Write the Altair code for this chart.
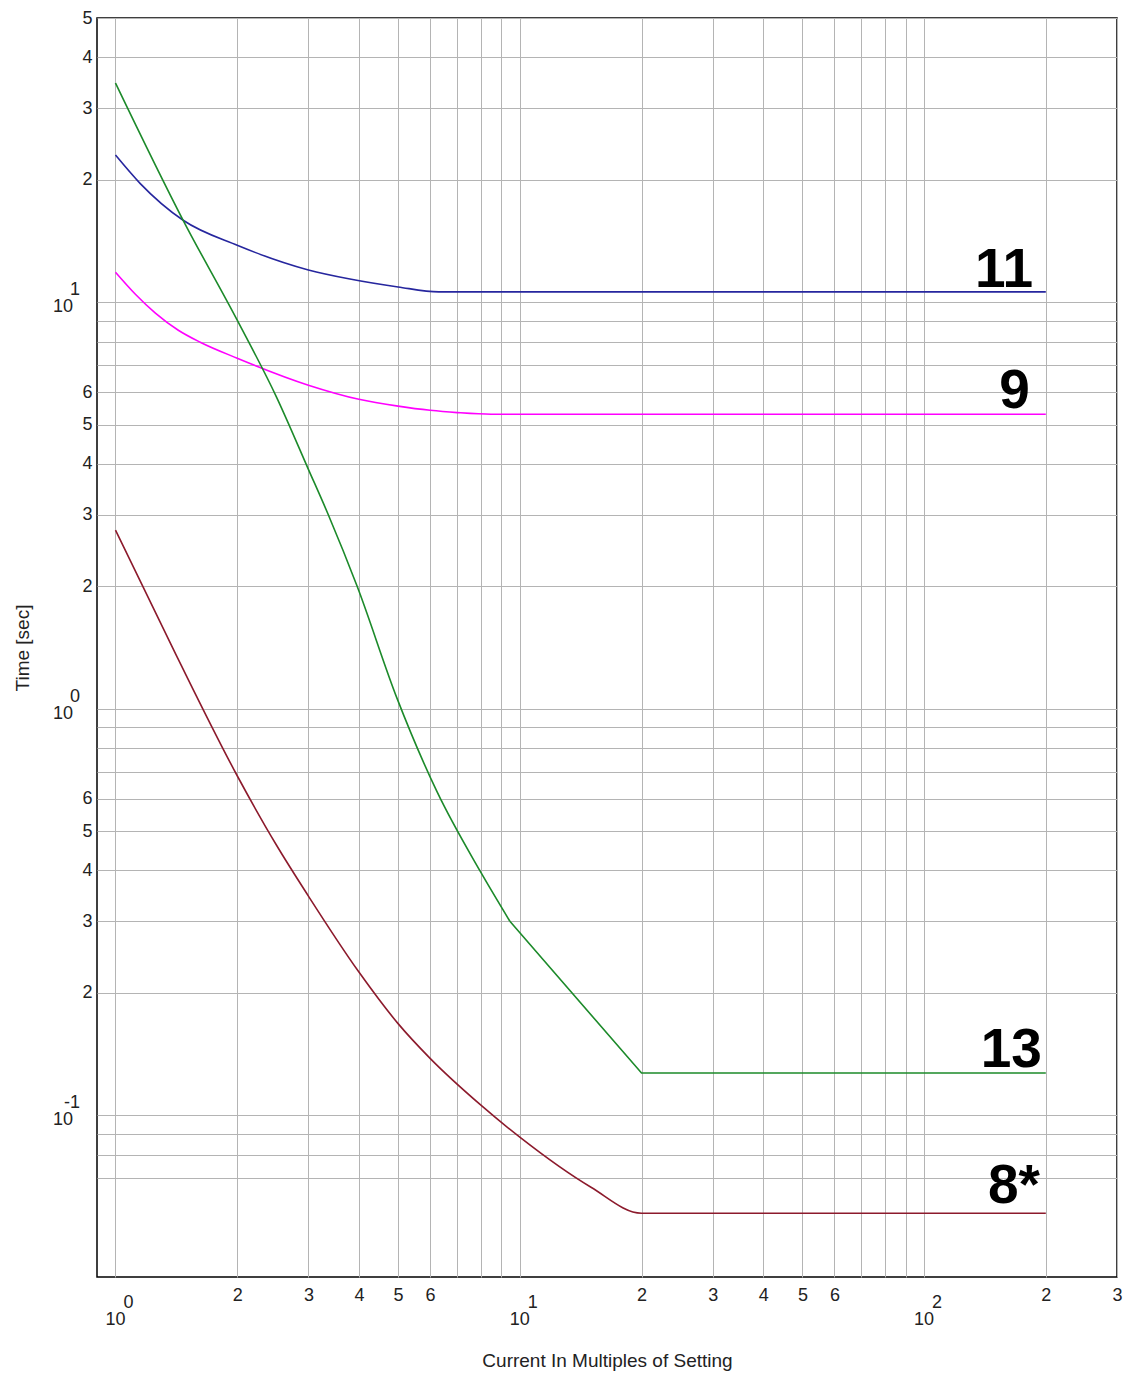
import altair as alt
import pandas as pd

# ---------------- data ----------------
series_names = ["11", "9", "13", "8*"]
series_colors = ["#26269e", "#ff00ff", "#1c8a2a", "#8c1a2c"]

x_11 = [1, 1.15, 1.47, 2, 3, 3.8, 5, 6.3, 200]
t_11 = [23.0, 19.6, 15.9, 13.8, 12.0, 11.4, 10.9, 10.6, 10.6]

x_9 = [1, 1.12, 1.255, 1.43, 1.62, 2, 3, 4, 5, 6, 7, 8.5, 200]
t_9 = [11.85, 10.46, 9.4, 8.53, 7.97, 7.28, 6.25, 5.77, 5.55, 5.42, 5.35, 5.30, 5.30]

x_13 = [1, 1.47, 2, 2.5, 3, 3.36, 3.96, 4.97, 6.24, 7.96, 9.45, 20, 200]
t_13 = [34.6, 15.9, 9.03, 5.85, 3.88, 3.0, 2.0, 1.06, 0.625, 0.4, 0.3, 0.127, 0.127]
knee_13 = 9.45  # curve part up to here, straight segments after

x_8 = [1, 1.41, 2, 2.5, 3, 4, 5, 6, 8, 10, 15, 20, 200]
t_8 = [2.75, 1.36, 0.684, 0.462, 0.346, 0.225, 0.168, 0.138, 0.106, 0.0883, 0.0665, 0.0574, 0.0574]

label_names = ["11", "9", "13", "8*"]
label_x = [186, 182.7, 195.6, 193.4]
label_t = [10.89, 5.485, 0.1313, 0.0607]

x_grid = [1, 2, 3, 4, 5, 6, 7, 8, 9, 10, 20, 30, 40, 50, 60, 70, 80, 90, 100, 200, 300]
y_grid = [0.07, 0.08, 0.09, 0.1, 0.2, 0.3, 0.4, 0.5, 0.6, 0.7, 0.8, 0.9,
          1, 2, 3, 4, 5, 6, 7, 8, 9, 10, 20, 30, 40, 50]

x_decades = [1, 10, 100]
x_exponents = ["0", "1", "2"]
y_decades = [0.1, 1, 10]
y_exponents = ["-1", "0", "1"]

x_domain = [0.9, 300]
y_domain = [0.04, 50]

# ---------------- build ----------------
W, H = 1020, 1259
FONT = "Liberation Sans"
TXT = "#222222"
LBL = 18
TTL = 19

rows = []
for name, xs, ts in [("11", x_11, t_11), ("9", x_9, t_9), ("13", x_13, t_13), ("8*", x_8, t_8)]:
    for i, (a, b) in enumerate(zip(xs, ts)):
        rows.append({"series": name, "x": a, "t": b, "order": i})
curves = pd.DataFrame(rows)

xscale = alt.Scale(type="log", domain=x_domain, nice=False)
yscale = alt.Scale(type="log", domain=y_domain, nice=False)
cscale = alt.Scale(domain=series_names, range=series_colors)

minor_label = ("indexof(['2','3','4','5','6'], substring(datum.label, 0, 1)) >= 0 "
               "? substring(datum.label, 0, 1) : ''")

x_axis = alt.Axis(values=x_grid, format=".1e", labelExpr=minor_label, grid=True,
                  gridColor="#b4b4b4", gridWidth=1, ticks=False, domain=False,
                  labelPadding=9, labelFont=FONT, labelFontSize=LBL, labelColor=TXT,
                  labelFlush=False, labelOverlap=False, labelBound=False,
                  title="Current In Multiples of Setting", titleFont=FONT, titleFontSize=TTL,
                  titleFontWeight="normal", titleColor=TXT, titleX=W / 2, titleY=83,
                  titleBaseline="middle", titleAlign="center")
y_axis = alt.Axis(values=y_grid, format=".1e", labelExpr=minor_label, grid=True,
                  gridColor="#b4b4b4", gridWidth=1, ticks=False, domain=False,
                  labelPadding=5, labelFont=FONT, labelFontSize=LBL, labelColor=TXT,
                  labelFlush=False, labelOverlap=False, labelBound=False,
                  title="Time [sec]", titleFont=FONT, titleFontSize=TTL,
                  titleFontWeight="normal", titleColor=TXT, titleX=-75, titleY=H / 2,
                  titleAngle=270, titleBaseline="middle", titleAlign="center")

X = alt.X("x:Q", scale=xscale, axis=x_axis)
Y = alt.Y("t:Q", scale=yscale, axis=y_axis)
C = alt.Color("series:N", scale=cscale, legend=None)

smooth_filter = f"datum.series != '13' || datum.x <= {knee_13}"
sharp_filter = f"datum.series == '13' && datum.x >= {knee_13}"

smooth = alt.Chart(curves).transform_filter(smooth_filter).mark_line(
    strokeWidth=1.6, interpolate="monotone").encode(
    x=X, y=Y, color=C, detail="series:N", order="order:Q")

sharp = alt.Chart(curves).transform_filter(sharp_filter).mark_line(
    strokeWidth=1.6, interpolate="linear").encode(
    x=X, y=Y, color=C, order="order:Q")

labels_df = pd.DataFrame({"name": label_names, "x": label_x, "t": label_t})
curve_labels = alt.Chart(labels_df).mark_text(
    font=FONT, fontSize=55, fontWeight="bold", align="right", baseline="alphabetic",
    color="black").encode(x=X, y=Y, text="name:N")

xd = pd.DataFrame({"x": x_decades, "lab": ["10"] * len(x_decades), "exp": x_exponents})
x_ten = alt.Chart(xd).mark_text(font=FONT, fontSize=LBL, color=TXT, align="center",
                                baseline="middle").encode(
    x=X, y=alt.value(H + 43), text="lab:N")
x_exp = alt.Chart(xd).mark_text(font=FONT, fontSize=LBL, color=TXT, align="left",
                                baseline="middle", dx=8).encode(
    x=X, y=alt.value(H + 26), text="exp:N")

yd = pd.DataFrame({"t": y_decades, "lab": ["10"] * len(y_decades), "exp": y_exponents})
y_ten = alt.Chart(yd).mark_text(font=FONT, fontSize=LBL, color=TXT, align="right",
                                baseline="middle", dy=5).encode(
    y=Y, x=alt.value(-24), text="lab:N")
y_exp = alt.Chart(yd).mark_text(font=FONT, fontSize=LBL, color=TXT, align="right",
                                baseline="middle", dy=-12).encode(
    y=Y, x=alt.value(-17), text="exp:N")

chart = alt.layer(smooth, sharp, curve_labels, x_ten, x_exp, y_ten, y_exp).properties(
    width=W, height=H,
    autosize=alt.AutoSizeParams(type="none"),
    padding={"left": 89, "top": 10, "right": 17, "bottom": 95},
    background="white",
).configure_view(stroke="black", strokeWidth=1.5)

chart.save("out.html", embed_options={"renderer": "svg", "actions": False})
